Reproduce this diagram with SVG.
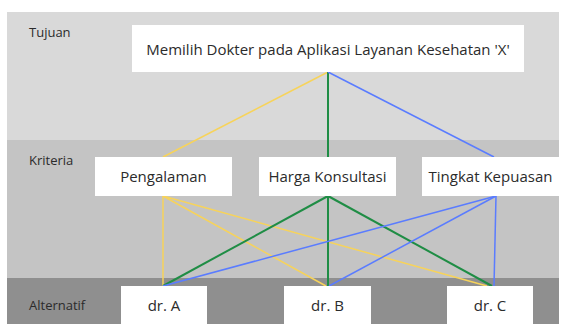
<svg xmlns="http://www.w3.org/2000/svg" width="561" height="324" viewBox="0 0 561 324">
  <style>
    .node rect { fill: #ffffff; }
    .node text { font-family: "Open Sans", "Noto Sans", sans-serif; font-size: 15px; fill: #2b2b2b; text-anchor: middle; }
    .level { font-family: "Open Sans", "Noto Sans", sans-serif; font-size: 13px; fill: #2b2b2b; }
    .y { stroke: #f7d35a; stroke-width: 1.5; }
    .g { stroke: #1f8d45; stroke-width: 2; }
    .b { stroke: #5a7cff; stroke-width: 1.5; }
  </style>
  <rect width="561" height="324" fill="#ffffff"/>
  <!-- level bands -->
  <rect x="7" y="12" width="552" height="128" fill="#d9d9d9"/>
  <rect x="7" y="140" width="552" height="138" fill="#c4c4c4"/>
  <rect x="7" y="278" width="552" height="46" fill="#8f8f8f"/>
  <text class="level" x="29" y="37">Tujuan</text>
  <text class="level" x="29" y="165">Kriteria</text>
  <text class="level" x="29" y="310">Alternatif</text>

  <g id="connectors" fill="none">
    <line class="y" x1="328" y1="72" x2="163" y2="157"/>
    <line class="g" x1="328" y1="72" x2="328" y2="157"/>
    <line class="b" x1="328" y1="72" x2="494" y2="157"/>

    <line class="y" x1="163" y1="196" x2="163" y2="286"/>
    <line class="y" x1="163" y1="196" x2="326" y2="286"/>
    <line class="y" x1="163" y1="196" x2="487" y2="286"/>

    <line class="g" x1="328" y1="196" x2="163" y2="286"/>
    <line class="g" x1="328" y1="196" x2="328" y2="286"/>
    <line class="g" x1="328" y1="196" x2="492" y2="286"/>

    <line class="b" x1="496" y1="196" x2="163" y2="286"/>
    <line class="b" x1="496" y1="196" x2="329" y2="286"/>
    <line class="b" x1="496" y1="196" x2="494" y2="286"/>
  </g>

  <g id="goal" class="node">
    <rect x="132" y="25" width="392" height="47"/>
    <text x="328" y="55">Memilih Dokter pada Aplikasi Layanan Kesehatan 'X'</text>
  </g>
  <g id="pengalaman" class="node">
    <rect x="95" y="157" width="137" height="39"/>
    <text x="163.5" y="182">Pengalaman</text>
  </g>
  <g id="harga" class="node">
    <rect x="259" y="157" width="137" height="39"/>
    <text x="327.5" y="182">Harga Konsultasi</text>
  </g>
  <g id="kepuasan" class="node">
    <rect x="422" y="157" width="137" height="39"/>
    <text x="490.5" y="182">Tingkat Kepuasan</text>
  </g>
  <g id="dr-a" class="node">
    <rect x="121" y="286" width="86" height="38"/>
    <text x="164" y="311">dr. A</text>
  </g>
  <g id="dr-b" class="node">
    <rect x="284" y="286" width="87" height="38"/>
    <text x="327.5" y="311">dr. B</text>
  </g>
  <g id="dr-c" class="node">
    <rect x="447" y="286" width="86" height="38"/>
    <text x="490" y="311">dr. C</text>
  </g>
</svg>
